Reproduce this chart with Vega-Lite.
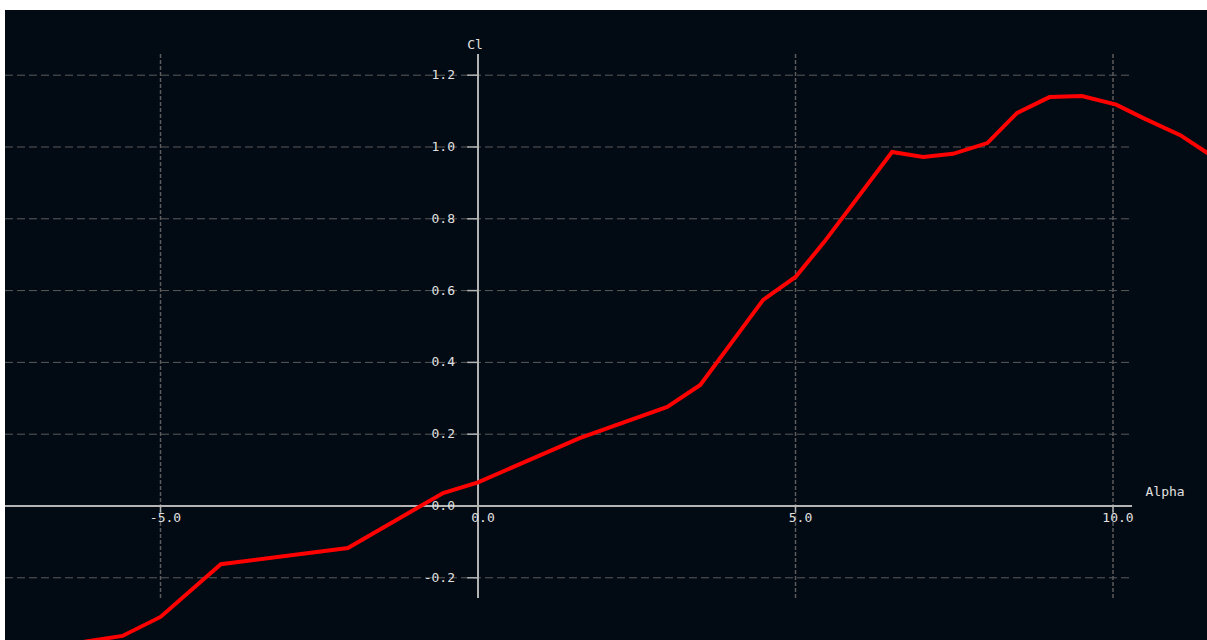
{
  "$schema": "https://vega.github.io/schema/vega-lite/v6.json",
  "width": 1202,
  "height": 630,
  "autosize": "none",
  "padding": {"left": 5, "top": 10, "right": 0, "bottom": 0},
  "background": "#ffffff",
  "view": {"fill": "#020a13", "stroke": null},
  "config": {"text": {"font": "DejaVu Sans Mono", "fontSize": 13, "fill": "#e0e0e0"}},
  "datasets": {
    "curve": [
      {"alpha": -6.2, "cl": -0.378},
      {"alpha": -5.6, "cl": -0.362},
      {"alpha": -5.0, "cl": -0.309},
      {"alpha": -4.05, "cl": -0.162},
      {"alpha": -2.05, "cl": -0.117},
      {"alpha": -0.55, "cl": 0.036},
      {"alpha": 0.0, "cl": 0.066},
      {"alpha": 1.6, "cl": 0.189},
      {"alpha": 2.98, "cl": 0.276},
      {"alpha": 3.5, "cl": 0.337},
      {"alpha": 4.49, "cl": 0.574},
      {"alpha": 5.0, "cl": 0.638},
      {"alpha": 5.45, "cl": 0.735},
      {"alpha": 6.52, "cl": 0.986},
      {"alpha": 7.01, "cl": 0.972},
      {"alpha": 7.48, "cl": 0.981},
      {"alpha": 8.02, "cl": 1.011},
      {"alpha": 8.49, "cl": 1.095},
      {"alpha": 9.0, "cl": 1.139},
      {"alpha": 9.51, "cl": 1.142},
      {"alpha": 10.05, "cl": 1.118},
      {"alpha": 10.47, "cl": 1.081},
      {"alpha": 11.06, "cl": 1.033},
      {"alpha": 11.6, "cl": 0.97}
    ],
    "yticks": [
      {"v": -0.2, "label": "-0.2", "grid": true},
      {"v": 0.0, "label": "0.0", "grid": false},
      {"v": 0.2, "label": "0.2", "grid": true},
      {"v": 0.4, "label": "0.4", "grid": true},
      {"v": 0.6, "label": "0.6", "grid": true},
      {"v": 0.8, "label": "0.8", "grid": true},
      {"v": 1.0, "label": "1.0", "grid": true},
      {"v": 1.2, "label": "1.2", "grid": true}
    ],
    "xticks": [
      {"v": -5, "label": "-5.0", "grid": true},
      {"v": 0, "label": "0.0", "grid": false},
      {"v": 5, "label": "5.0", "grid": true},
      {"v": 10, "label": "10.0", "grid": true}
    ]
  },
  "layer": [
    {
      "data": {"name": "yticks"},
      "transform": [{"filter": "datum.grid"}],
      "mark": {"type": "rule", "color": "#5c5c5c", "strokeWidth": 1, "strokeDash": [8, 4]},
      "encoding": {
        "x": {"datum": -7.449, "type": "quantitative", "scale": {"domain": [-7.449, 11.48], "nice": false, "zero": false}, "axis": null},
        "x2": {"datum": 10.3},
        "y": {"field": "v", "type": "quantitative", "scale": {"domain": [-0.3733, 1.3816], "nice": false, "zero": false}, "axis": null}
      }
    },
    {
      "data": {"name": "xticks"},
      "transform": [{"filter": "datum.grid"}],
      "mark": {"type": "rule", "color": "#5c5c5c", "strokeWidth": 1.5, "strokeDash": [4, 2]},
      "encoding": {
        "x": {"field": "v", "type": "quantitative"},
        "y": {"datum": 1.259, "type": "quantitative"},
        "y2": {"datum": -0.262}
      }
    },
    {
      "data": {"values": [{}]},
      "mark": {"type": "rule", "color": "#b4b4b4", "strokeWidth": 2},
      "encoding": {
        "x": {"datum": 0, "type": "quantitative"},
        "y": {"datum": 1.259, "type": "quantitative"},
        "y2": {"datum": -0.256}
      }
    },
    {
      "data": {"values": [{}]},
      "mark": {"type": "rule", "color": "#b4b4b4", "strokeWidth": 2},
      "encoding": {
        "x": {"datum": -7.449, "type": "quantitative"},
        "x2": {"datum": 10.3},
        "y": {"datum": 0, "type": "quantitative"}
      }
    },
    {
      "data": {"name": "yticks"},
      "mark": {"type": "rule", "color": "#b4b4b4", "strokeWidth": 1.5},
      "encoding": {
        "x": {"datum": -0.17, "type": "quantitative"},
        "x2": {"datum": 0},
        "y": {"field": "v", "type": "quantitative"}
      }
    },
    {
      "data": {"name": "xticks"},
      "mark": {"type": "rule", "color": "#b4b4b4", "strokeWidth": 1.5},
      "encoding": {
        "x": {"field": "v", "type": "quantitative"},
        "y": {"datum": 0, "type": "quantitative"},
        "y2": {"datum": -0.018}
      }
    },
    {
      "data": {"name": "yticks"},
      "mark": {"type": "text", "align": "right", "baseline": "middle", "dx": -23},
      "encoding": {
        "x": {"datum": 0, "type": "quantitative"},
        "y": {"field": "v", "type": "quantitative"},
        "text": {"field": "label"}
      }
    },
    {
      "data": {"name": "xticks"},
      "mark": {"type": "text", "align": "center", "baseline": "middle", "dx": 5, "dy": 12},
      "encoding": {
        "x": {"field": "v", "type": "quantitative"},
        "y": {"datum": 0, "type": "quantitative"},
        "text": {"field": "label"}
      }
    },
    {
      "data": {"values": [{"t": "Cl"}]},
      "mark": {"type": "text", "align": "center", "baseline": "middle", "dx": -3},
      "encoding": {
        "x": {"datum": 0, "type": "quantitative"},
        "y": {"datum": 1.284, "type": "quantitative"},
        "text": {"field": "t"}
      }
    },
    {
      "data": {"values": [{"t": "Alpha"}]},
      "mark": {"type": "text", "align": "center", "baseline": "middle"},
      "encoding": {
        "x": {"datum": 10.82, "type": "quantitative"},
        "y": {"datum": 0.039, "type": "quantitative"},
        "text": {"field": "t"}
      }
    },
    {
      "data": {"name": "curve"},
      "mark": {"type": "line", "color": "#ff0000", "strokeWidth": 4, "clip": true},
      "encoding": {
        "x": {"field": "alpha", "type": "quantitative"},
        "y": {"field": "cl", "type": "quantitative"}
      }
    }
  ]
}
